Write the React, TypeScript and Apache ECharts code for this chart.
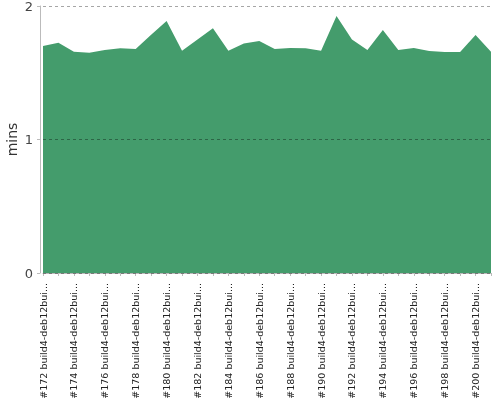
import React, { useEffect, useRef } from "react";
import * as echarts from "echarts";

const buildNumbers = [
  172, 173, 174, 175, 176, 177, 178, 179, 180, 181, 182, 183, 184, 185, 186,
  187, 188, 189, 190, 191, 192, 193, 194, 195, 196, 197, 198, 199, 200, 201,
];
const categories = buildNumbers.map((n) => `#${n} build4-deb12builder`);
const durations = [
  1.7, 1.725, 1.658, 1.65, 1.67, 1.683, 1.678, 1.785, 1.888, 1.665, 1.75, 1.833,
  1.665, 1.72, 1.738, 1.678, 1.685, 1.683, 1.665, 1.925, 1.75, 1.67, 1.82, 1.67,
  1.685, 1.663, 1.655, 1.655, 1.783, 1.658,
];
const yTicks = { min: 0, max: 2, interval: 1 };

export default function App() {
  const ref = useRef<HTMLDivElement>(null);
  useEffect(() => {
    if (!ref.current) return;
    const chart = echarts.init(ref.current, undefined, { renderer: "svg" });
    chart.setOption({
      animation: false,
      textStyle: { fontFamily: "DejaVu Sans" },
      grid: {
        left: 43,
        right: 9,
        top: 6,
        bottom: 127,
        containLabel: false,
        outerBoundsMode: "none",
      },
      xAxis: {
        type: "category",
        data: categories,
        boundaryGap: false,
        offset: 4,
        axisLine: { lineStyle: { color: "#bbbbbb", width: 1 } },
        axisTick: { interval: 0, length: 3, lineStyle: { color: "#bbbbbb" } },
        axisLabel: {
          interval: 1,
          rotate: 90,
          fontSize: 9.5,
          color: "#222222",
          margin: 6,
          fontFamily: "DejaVu Sans",
          formatter: (v: string) => (v.length > 20 ? v.slice(0, 20) + "..." : v),
        },
        splitLine: { show: false },
      },
      yAxis: {
        type: "value",
        min: yTicks.min,
        max: yTicks.max,
        interval: yTicks.interval,
        offset: 3,
        z: 5,
        name: "mins",
        nameLocation: "middle",
        nameGap: 21,
        nameMoveOverlap: false,
        nameTextStyle: { fontSize: 14, color: "#333333", fontFamily: "DejaVu Sans" },
        axisLine: { show: true, lineStyle: { color: "#bbbbbb", width: 1 } },
        axisTick: { show: true, length: 3, lineStyle: { color: "#bbbbbb" } },
        axisLabel: { fontSize: 13, color: "#444444", margin: 7, fontFamily: "DejaVu Sans" },
        splitLine: {
          show: true,
          lineStyle: { type: [3, 3], color: "rgba(0,0,0,0.35)", width: 1 },
        },
      },
      series: [
        {
          type: "line",
          data: durations,
          showSymbol: false,
          symbol: "none",
          lineStyle: { width: 0 },
          areaStyle: { color: "#449c6c", opacity: 1 },
          z: 2,
        },
      ],
    });
    return () => chart.dispose();
  }, []);
  return (
    <div
      ref={ref}
      style={{ position: "fixed", left: 0, top: 0, width: 500, height: 400 }}
    />
  );
}
